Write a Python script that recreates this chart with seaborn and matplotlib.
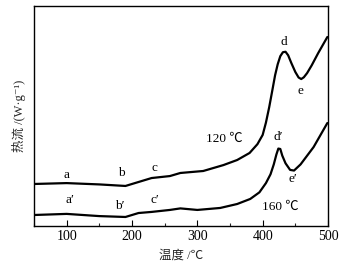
import matplotlib
matplotlib.use("Agg")
import matplotlib.pyplot as plt
from matplotlib.ticker import MultipleLocator
import pandas as pd
import seaborn as sns

# 120 ℃ 曲线 (温度, 热流 任意单位)
t_120 = [50, 100, 150, 190, 210, 230, 258, 274, 309, 340, 361, 380, 392, 400, 405, 410, 415,
         419, 423, 427, 431, 435, 439, 444, 450, 455, 459, 463, 468, 475, 485, 499]
hf_120 = [19.1, 19.5, 18.9, 18.2, 20.0, 21.8, 22.7, 24.1, 25.0, 27.7, 30.0, 33.2, 37.2, 41.4, 47.0, 54.0, 62.0,
          68.5, 73.5, 77.2, 79.0, 79.2, 77.6, 74.0, 70.0, 67.5, 66.8, 67.6, 69.5, 73.0, 78.6, 85.9]

# 160 ℃ 曲线
t_160 = [50, 100, 150, 190, 210, 230, 258, 274, 300, 335, 361, 381, 395, 405, 412, 417, 421,
         424, 427, 430, 435, 442, 448, 458, 478, 499]
hf_160 = [5.0, 5.5, 4.5, 4.1, 5.9, 6.4, 7.3, 8.0, 7.3, 8.2, 10.0, 12.3, 15.3, 19.5, 23.5, 28.0, 32.5,
          35.2, 35.0, 32.0, 28.5, 25.5, 25.2, 28.0, 35.9, 46.8]

# 标注
labels = ["a", "b", "c", "d", "e", "120 ℃", "a′", "b′", "c′", "d′", "e′", "160 ℃"]
label_t = [100, 183, 235, 432, 458, 341, 105, 182, 235, 424, 447, 427]
label_hf = [23.2, 24.1, 26.4, 83.6, 61.4, 39.5, 11.8, 9.1, 11.8, 40.5, 21.4, 8.6]

df = pd.concat([
    pd.DataFrame({"T": t_120, "hf": hf_120, "s": "120"}),
    pd.DataFrame({"T": t_160, "hf": hf_160, "s": "160"}),
])

sns.set_style("ticks")
plt.rcParams["font.family"] = ["Liberation Serif", "Noto Sans CJK SC", "DejaVu Serif"]

fig = plt.figure(figsize=(3.51, 2.71), dpi=100)
ax = fig.add_axes([34 / 351, 1 - 226 / 271, 294 / 351, 220 / 271])

sns.lineplot(data=df, x="T", y="hf", units="s", estimator=None, color="black",
             linewidth=1.6, ax=ax)

for txt, x, y in zip(labels, label_t, label_hf):
    ax.text(x, y, txt, ha="center", va="center", fontsize=9.5, color="black")

ax.set_xlim(50, 500)
ax.set_ylim(0, 100)
ax.xaxis.set_major_locator(MultipleLocator(100))
ax.xaxis.set_minor_locator(MultipleLocator(50))
ax.set_yticks([])
ax.tick_params(axis="x", which="major", direction="in", length=4, width=0.8,
               labelsize=10, pad=3, colors="black")
ax.tick_params(axis="x", which="minor", direction="in", length=2.5, width=0.8)
for sp in ax.spines.values():
    sp.set_color("black")
    sp.set_linewidth(1.0)

ax.set_xlabel("温度 /℃", fontsize=9, labelpad=5)
ax.set_ylabel("热流 /(W·g⁻¹)", fontsize=9, labelpad=6)

fig.savefig("out.png", dpi=100)
